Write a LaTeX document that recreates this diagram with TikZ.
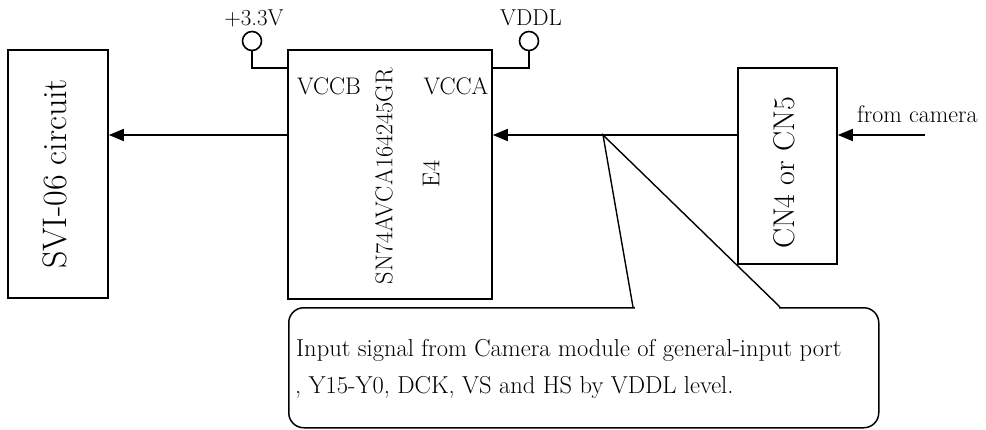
\documentclass[tikz,border=0pt]{standalone}
\usepackage{fontspec}
\setmainfont{Latin Modern Roman}
\usetikzlibrary{arrows.meta,calc}
\begin{document}
\begin{tikzpicture}[x=1pt,y=-1pt,
  box/.style={draw,line width=1.6pt,inner sep=0pt},
  wire/.style={line width=1.6pt},
  arr/.style={line width=1.8pt,-{Triangle[length=15pt,width=12pt]}},
  term/.style={draw,circle,line width=1.6pt,minimum size=19pt,inner sep=0pt},
  lbl/.style={inner sep=0pt,font=\fontsize{23}{27}\selectfont},
  vlbl/.style={inner sep=0pt,rotate=90}
]
\useasboundingbox (0,0) rectangle (986,429);
% boxes
\node[box,minimum width=100pt,minimum height=248pt] (svi) at (58,174) {};
\node[vlbl,font=\fontsize{34}{40}\selectfont] (svit) at (55,174) {SVI-06 circuit};
\node[box,minimum width=204pt,minimum height=249pt] (chip) at (390,174.5) {};
\node[box,minimum width=99pt,minimum height=196pt] (cn) at (787.5,166) {};
\node[vlbl,font=\fontsize{30}{35}\selectfont] (cnt) at (784,173) {CN4 or CN5};
% chip texts
\node[lbl,font=\fontsize{24}{28}\selectfont] (vccb) at (329,86) {VCCB};
\node[lbl,font=\fontsize{24}{28}\selectfont] (vcca) at (456,86) {VCCA};
\node[vlbl,font=\fontsize{24.3}{28}\selectfont] (part) at (384,176) {SN74AVCA164245GR};
\node[vlbl,font=\fontsize{24.3}{28}\selectfont] (e4) at (431,174) {E4};
% power terminals
\node[term] (c33) at (252,41) {};
\node[term] (cvddl) at (529,41) {};
\node[lbl] (l33) at (254,18) {+3.3V};
\node[lbl] (lvddl) at (531,18) {VDDL};
\coordinate (pb) at ($(chip.north west)+(0,19)$);
\coordinate (pa) at ($(chip.north east)+(0,19)$);
\draw[wire] (c33.south) |- (pb);
\draw[wire] (cvddl.south) |- (pa);
% signal path
\coordinate (tip) at (603,135);
\coordinate (cam) at (925,135);
\draw[arr] (chip.west |- tip) -- (svi.east |- tip);
\draw[arr] (cn.west |- tip) -- (chip.east |- tip);
\draw[arr] (cam) -- (cn.east |- cam);
\node[lbl,anchor=west,font=\fontsize{24}{28}\selectfont] (fc) at (857,114) {from camera};
% callout
\node[draw,line width=1.5pt,rounded corners=15pt,minimum width=590pt,minimum height=120pt,anchor=north west,inner sep=0pt] (callout) at (288,307) {};
\coordinate (wa) at ($(callout.north west)+(345,0)$);
\coordinate (wb) at ($(callout.north west)+(492,0)$);
\fill[white] ($(wa)+(1.5,-2)$) rectangle ($(wb)+(-1.5,2)$);
\draw[line width=1.4pt,line join=miter] (wa) -- (tip) -- (wb);
\node[lbl,anchor=base west,font=\fontsize{24.5}{28}\selectfont] (t1) at (296,356) {Input signal from Camera module of general-input port};
\node[lbl,anchor=base west,font=\fontsize{24.5}{28}\selectfont] (t2) at (295,393) {, Y15-Y0, DCK, VS and HS by VDDL level.};
\end{tikzpicture}
\end{document}
